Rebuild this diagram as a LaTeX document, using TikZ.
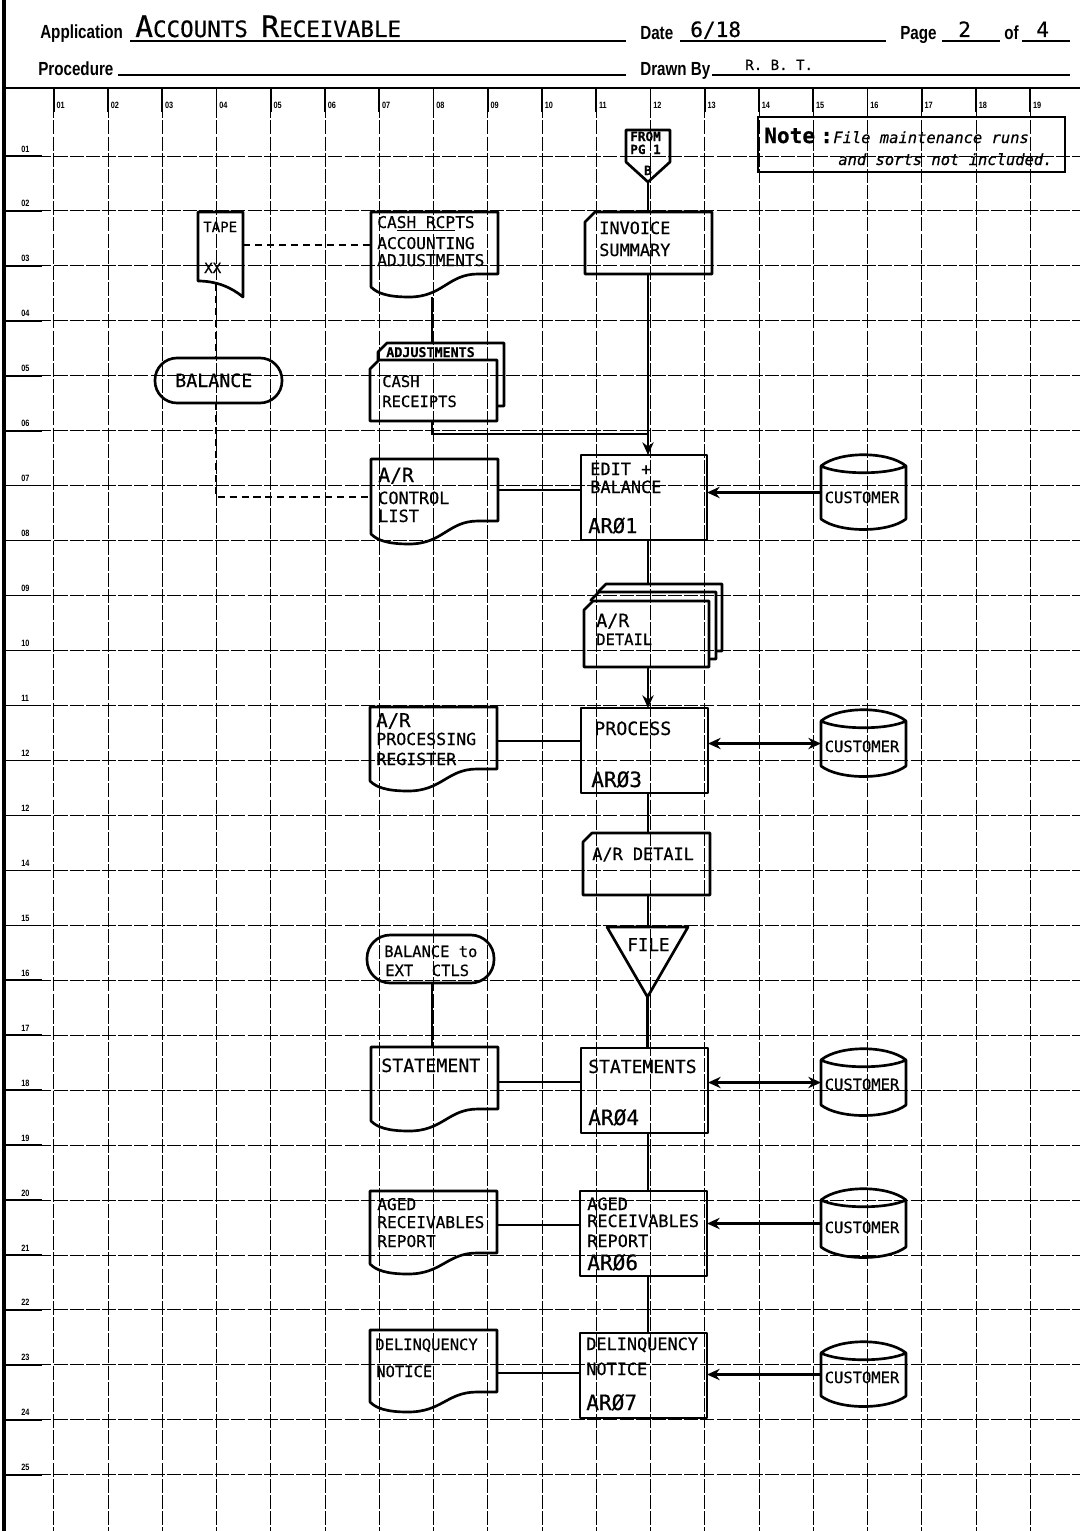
\documentclass[tikz,border=0pt]{standalone}
\usepackage{fontspec}
\setmainfont{DejaVu Sans Mono}
\newfontfamily\lett[FakeBold=0.5]{DejaVu Sans Mono}
\newfontfamily\formf[FakeStretch=0.8]{Liberation Sans}
\usetikzlibrary{calc,arrows.meta}
\newcommand\fs[1]{\fontsize{#1}{#1}\selectfont}
\newcommand\docout[1]{%
 \draw[shp] (#1.north west) -- (#1.north east) -- ($(#1.north east)+(0,62)$) -- ($(#1.north east)+(-20,62)$)
  .. controls ($(#1.north east)+(-50,62)$) and ($(#1.south west)+(72,0)$) .. ($(#1.south west)+(38,0)$)
  .. controls ($(#1.south west)+(16,0)$) and ($(#1.south west)+(6,-4)$) .. ($(#1.south west)+(0,-10)$) -- cycle;}
\newcommand\cardout[2]{%
 \draw[shp] ($(#1.north west)+(0,#2)$) -- ($(#1.north west)+(#2,0)$) -- (#1.north east) -- (#1.south east) -- (#1.south west) -- cycle;}
\newcommand\backcard[3]{%
 \draw[shp] (#1.west |- #2.north) -- ($(#1.north west)+(0,#3)$) -- ($(#1.north west)+(#3,0)$) -- (#1.north east) -- (#1.south east) -- (#1.south east -| #2.east);}
\newcommand\cylout[1]{%
 \draw[shp] ($(#1.north west)+(0,11)$) -- ($(#1.south west)+(0,-11)$)
  .. controls ($(#1.south west)+(18,3)$) and ($(#1.south east)+(-18,3)$) .. ($(#1.south east)+(0,-11)$)
  -- ($(#1.north east)+(0,11)$)
  .. controls ($(#1.north east)+(-18,-4)$) and ($(#1.north west)+(18,-4)$) .. ($(#1.north west)+(0,11)$)
  .. controls ($(#1.north west)+(18,20)$) and ($(#1.north east)+(-18,20)$) .. ($(#1.north east)+(0,11)$);}
\begin{document}
\begin{tikzpicture}[x=0.025cm,y=-0.025cm,
 shp/.style={line width=1.9pt, line join=round},
 conn/.style={line width=1.6pt},
 dconn/.style={line width=1.6pt, dash pattern=on 5pt off 3.5pt},
 arr/.style={conn, -{Stealth[length=9pt,width=8pt]}},
 darr/.style={conn, {Stealth[length=9pt,width=8pt]}-{Stealth[length=9pt,width=8pt]}},
 grd/.style={line width=0.7pt, dash pattern=on 10pt off 1.5pt},
 rule/.style={line width=1.2pt},
 bx/.style 2 args={minimum width=#1*0.025cm, minimum height=#2*0.025cm, inner sep=0pt, outer sep=0pt, anchor=north west},
 lt/.style={font=\lett\fs{#1}, inner sep=0pt, anchor=base west},
 ltc/.style={font=\lett\fs{#1}, inner sep=0pt, anchor=base},
 form/.style={font=\formf\bfseries\fs{13.5}, inner sep=0pt, anchor=base west},
 tiny/.style={font=\formf\bfseries\fs{6.5}, inner sep=0pt, anchor=base west}]
\useasboundingbox (0,0) rectangle (1080,1531);
\fill[white] (0,0) rectangle (1080,1531);
% ---------- grid ----------
\foreach \i in {1,...,19}{
  \draw[grd] ({54.25*\i-0.5},88) -- ({54.25*\i-0.5},1531);
  \draw[line width=1.2pt] ({54.25*\i-0.5},88) -- ({54.25*\i-0.5},112);
  \node[tiny] (c\i) at ({54.25*\i+2},108) {\ifnum\i<10 0\fi\i};
}
\foreach \k/\lab in {1/01,2/02,3/03,4/04,5/05,6/06,7/07,8/08,9/09,10/10,11/11,12/12,13/12,14/14,15/15,16/16,17/17,18/18,19/19,20/20,21/21,22/22,23/23,24/24,25/25}{
  \draw[grd] (5,{156+54.95*(\k-1)}) -- (1080,{156+54.95*(\k-1)});
  \draw[line width=1.1pt] (5,{156+54.95*(\k-1)}) -- (42,{156+54.95*(\k-1)});
  \node[tiny] (r\k) at (21,{152+54.95*(\k-1)}) {\lab};
}
% ---------- header ----------
\draw[line width=3.5pt] (4,0) -- (4,1531);
\draw[line width=1.8pt] (4,88) -- (1080,88);
\node[form] (hApp) at (40,39) {Application};
\node[lt=16] (hAR) at (135,37) {{\fs{21}A}CCOUNTS {\fs{21}R}ECEIVABLE};
\node[form] (hDate) at (640,40) {Date};
\node[lt=15] (h618) at (690,37) {6/18};
\node[form] (hPage) at (900,40) {Page};
\node[lt=15] (h2) at (958,37) {2};
\node[form] (hOf) at (1004,40) {of};
\node[lt=15] (h4) at (1036,37) {4};
\node[form] (hProc) at (38,75) {Procedure};
\node[form] (hDrawn) at (640,75) {Drawn By};
\node[lt=10] (hRBT) at (745,70) {R. B. T.};
\draw[rule] (130,41) -- (626,41);
\draw[rule] (680,41) -- (886,41);
\draw[rule] (942,41) -- (1000,41);
\draw[rule] (1022,41) -- (1070,41);
\draw[rule] (118,75) -- (626,75);
\draw[rule] (712,75) -- (1070,75);
% ---------- note ----------
\node[bx={307}{55}, draw, line width=1.6pt] (note) at (758,117) {};
\node[lt=15] (tN1) at (764,143) {\bfseries Note};
\node[lt=15] (tN2) at (820,143) {\bfseries :};
\node[lt=11] (tN3) at (833,143) {\itshape File maintenance runs};
\node[lt=11] (tN4) at (838,165) {\itshape and sorts not included.};
% ---------- shapes ----------
\coordinate (mx) at (648,0);
\coordinate (cx) at (432,0);
% off-page connector
\node[bx={44}{52}] (conn) at (626,130) {};
\draw[shp] (conn.north west) -- (conn.north east) -- ($(conn.north east)+(0,32)$) -- (conn.south) -- ($(conn.north west)+(0,32)$) -- cycle;
\node[lt=9] (tC1) at (630,141) {\bfseries FROM};
\node[lt=9] (tC2) at (630,154) {\bfseries\underline{PG} 1};
\node[ltc=9] (tC3) at (648,175) {\bfseries B};
% invoice summary card
\node[bx={127}{62}] (invoice) at (585,212) {};
\cardout{invoice}{10}
\node[lt=12] (tI1) at (599,234) {INVOICE};
\node[lt=12] (tI2) at (599,256) {SUMMARY};
% tape
\node[bx={45}{85}] (tape) at (198,212) {};
\draw[shp] (tape.north west) -- (tape.north east) -- (tape.south east) .. controls ($(tape.south east)+(-12,-10)$) and ($(tape.south west)+(18,-16)$) .. ($(tape.south west)+(0,-16)$) -- cycle;
\node[lt=10] (tT1) at (203,232) {TAPE};
\node[lt=10] (tT2) at (204,273) {XX};
% cash rcpts document
\node[bx={127}{85}] (cashdoc) at (371,212) {};
\docout{cashdoc}
\node[lt=11.5] (tD1) at (377,228) {CA\underline{SH RCP}TS};
\node[lt=11.5] (tD2) at (377,249) {ACCOUNTING};
\node[lt=11.5] (tD3) at (377,266) {ADJUSTMENTS};
% adjustments / cash receipts cards
\node[bx={126}{63}] (adjb) at (378,343) {};
\node[bx={127}{61}] (adjf) at (370,360) {};
\backcard{adjb}{adjf}{9}
\cardout{adjf}{9}
\node[lt=9.5] (tA1) at (386,357) {\bfseries ADJUSTMENTS};
\node[lt=11] (tA2) at (382,387) {CASH};
\node[lt=11] (tA3) at (382,407) {RECEIPTS};
% balance terminal
\node[bx={127}{45}, draw, shp, rounded corners=0.55cm] (bal) at (155,358) {};
\node[lt=13] (tB1) at (175,387) {BALANCE};
% A/R control list
\node[bx={127}{85}] (ctl) at (371,459) {};
\docout{ctl}
\node[lt=14] (tL1) at (378,482) {A/R};
\node[lt=12] (tL2) at (378,504) {CONTROL};
\node[lt=12] (tL3) at (378,522) {LIST};
% edit + balance
\node[bx={126}{85}, draw, shp] (edit) at (581,455) {};
\node[lt=12] (tE1) at (590,475) {EDIT +};
\node[lt=12] (tE2) at (590,493) {BALANCE};
\node[lt=14.5] (tE3) at (588,533) {ARØ1};
% customer 1
\node[bx={85}{75}] (cust1) at (821,455) {};
\cylout{cust1}
\node[ltc=11] (tU1) at (862,503) {CUSTOMER};
% A/R detail stack
\node[bx={124}{67}] (stackb) at (598,584) {};
\node[bx={125}{67}] (stackm) at (591,592) {};
\node[bx={125}{66}] (stackf) at (584,601) {};
\backcard{stackb}{stackm}{8}
\backcard{stackm}{stackf}{8}
\cardout{stackf}{9}
\node[lt=13] (tS1) at (596,627) {A/R};
\node[lt=11] (tS2) at (596,645) {DETAIL};
% A/R processing register
\node[bx={127}{84}] (reg) at (370,707) {};
\docout{reg}
\node[lt=13.5] (tR1) at (376,727) {A/R};
\node[lt=11.8] (tR2) at (376,745) {PROCESSING};
\node[lt=11.8] (tR3) at (376,765) {REGISTER};
% process
\node[bx={127}{85}, draw, shp] (proc) at (581,708) {};
\node[lt=13] (tP1) at (594,735) {PROCESS};
\node[lt=15] (tP2) at (591,787) {ARØ3};
% customer 2
\node[bx={85}{67}] (cust2) at (821,710) {};
\cylout{cust2}
\node[ltc=11] (tU2) at (862,752) {CUSTOMER};
% A/R detail card
\node[bx={127}{62}] (ard) at (583,833) {};
\cardout{ard}{9}
\node[lt=12] (tAD) at (592,860) {A/R DETAIL};
% file
\node[bx={81}{70}] (file) at (607,927) {};
\draw[shp] (file.north west) -- (file.north east) -- (file.south) -- cycle;
\node[lt=12.5] (tF) at (627,951) {FILE};
% balance to ext ctls
\node[bx={127}{48}, draw, shp, rounded corners=0.58cm] (bal2) at (367,935) {};
\node[lt=11] (tB2a) at (384,957) {BALANCE to};
\node[lt=11] (tB2b) at (385,976) {EXT\ \ CTLS};
% statement document
\node[bx={127}{84}] (stdoc) at (371,1047) {};
\docout{stdoc}
\node[lt=13] (tSt) at (381,1072) {STATEMENT};
% statements
\node[bx={127}{85}, draw, shp] (stm) at (581,1048) {};
\node[lt=12.8] (tSm1) at (588,1073) {STATEMENTS};
\node[lt=15] (tSm2) at (588,1125) {ARØ4};
% customer 3
\node[bx={85}{67}] (cust3) at (821,1049) {};
\cylout{cust3}
\node[ltc=11] (tU3) at (862,1090) {CUSTOMER};
% aged receivables document
\node[bx={127}{83}] (agd) at (370,1191) {};
\docout{agd}
\node[lt=11.5] (tG1) at (377,1210) {AGED};
\node[lt=11.5] (tG2) at (377,1228) {RECEIVABLES};
\node[lt=11.5] (tG3) at (377,1247) {REPORT};
% aged receivables box
\node[bx={127}{85}, draw, shp] (agb) at (580,1191) {};
\node[lt=12] (tH1) at (587,1210) {AGED};
\node[lt=12] (tH2) at (587,1227) {RECEIVABLES};
\node[lt=12] (tH3) at (587,1247) {REPORT};
\node[lt=15] (tH4) at (587,1270) {ARØ6};
% customer 4
\node[bx={85}{69}] (cust4) at (821,1189) {};
\cylout{cust4}
\node[ltc=11] (tU4) at (862,1233) {CUSTOMER};
% delinquency document
\node[bx={127}{82}] (dld) at (370,1330) {};
\docout{dld}
\node[lt=11] (tK1) at (375,1350) {DELINQUENCY};
\node[lt=11] (tK2) at (376,1377) {NOTICE};
% delinquency box
\node[bx={127}{85}, draw, shp] (dlb) at (580,1333) {};
\node[lt=12] (tM1) at (586,1350) {DELINQUENCY};
\node[lt=12] (tM2) at (586,1375) {NOTICE};
\node[lt=15] (tM3) at (586,1410) {ARØ7};
% customer 5
\node[bx={85}{65}] (cust5) at (821,1342) {};
\cylout{cust5}
\node[ltc=11] (tU5) at (862,1383) {CUSTOMER};
% ---------- connectors ----------
\draw[conn] (conn.south) -- (conn.south |- invoice.north);
\draw[arr] (invoice.south -| mx) -- (edit.north -| mx);
\coordinate (j1) at (648,434);
\draw[conn] (cashdoc.south -| cx) -- (adjb.north -| cx);
\draw[conn] (adjf.south -| cx) |- (j1);
\coordinate (tapeR) at ($(tape.north east)+(0,33)$);
\draw[dconn] (tapeR) -- (tapeR -| cashdoc.west);
\coordinate (tb) at ($(tape.south west)+(18,-13)$);
\draw[dconn] (tb) -- (tb |- bal.north);
\coordinate (ctlL) at ($(ctl.north west)+(0,38)$);
\draw[dconn] (bal.south -| tb) |- (ctlL);
\coordinate (ctlR) at ($(ctl.north east)+(0,31)$);
\draw[conn] (ctlR) -- (ctlR -| edit.west);
\draw[arr] (cust1.west) -- (cust1.west -| edit.east);
\draw[conn] (edit.south -| mx) -- (stackb.north -| mx);
\draw[arr] (stackf.south -| mx) -- (proc.north -| mx);
\coordinate (regR) at ($(reg.north east)+(0,34)$);
\draw[conn] (regR) -- (regR -| proc.west);
\draw[darr] (cust2.west -| proc.east) -- (cust2.west);
\draw[conn] (proc.south -| mx) -- (ard.north -| mx);
\draw[conn] (ard.south -| mx) -- (file.north -| mx);
\draw[conn] (file.south) -- (file.south |- stm.north);
\draw[conn] (bal2.south -| cx) -- (stdoc.north -| cx);
\coordinate (stR) at ($(stdoc.north east)+(0,35)$);
\draw[conn] (stR) -- (stR -| stm.west);
\draw[darr] (cust3.west -| stm.east) -- (cust3.west);
\draw[conn] (stm.south -| mx) -- (agb.north -| mx);
\coordinate (agR) at ($(agd.north east)+(0,34)$);
\draw[conn] (agR) -- (agR -| agb.west);
\draw[arr] (cust4.west) -- (cust4.west -| agb.east);
\draw[conn] (agb.south -| mx) -- (dlb.north -| mx);
\coordinate (dlR) at ($(dld.north east)+(0,43)$);
\draw[conn] (dlR) -- (dlR -| dlb.west);
\draw[arr] (cust5.west) -- (cust5.west -| dlb.east);
\end{tikzpicture}
\end{document}
